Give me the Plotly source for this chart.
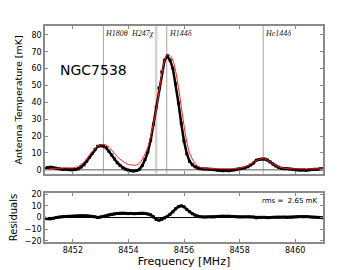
import plotly.graph_objects as go

# frequency grid (MHz), 0.1 MHz sampling
freq = [round(8451.0 + 0.1 * i, 1) for i in range(101)]

# observed antenna temperature (mK)
data_mk = [0.8, 1.3, 1.5, 1.2, 0.8, 0.5, 0.3, 0.3, 0.1, 0.0,
           -0.1, 0.1, 0.5, 1.6, 3.0, 5.0, 7.4, 9.8, 12.0, 13.9,
           14.2, 14.0, 13.0, 11.0, 8.8, 6.4, 4.2, 2.5, 1.2, 0.3,
           -0.3, -0.6, -0.7, -0.5, 0.3, 2.5, 6.0, 10.5, 17.5, 27.0,
           37.0, 48.5, 58.0, 65.0, 67.5, 65.0, 60.0, 51.0, 39.6, 27.5,
           17.0, 9.5, 5.0, 3.0, 1.7, 1.0, 0.6, 0.4, 0.4, 0.3,
           0.2, 0.0, -0.3, -0.5, -0.6, -0.5, -0.6, -0.4, -0.2, 0.2,
           0.5, 0.8, 1.2, 1.8, 2.8, 4.0, 5.6, 6.0, 6.3, 6.3,
           5.7, 4.6, 3.3, 2.2, 1.4, 0.9, 0.6, 0.6, 0.4, 0.2,
           0.0, -0.2, -0.3, -0.2, -0.3, -0.1, 0.1, 0.2, 0.3, 0.5,
           0.6]

# model fit (mK)
model_mk = [0.1, 0.2, 0.4, 0.6, 0.8, 0.9, 0.9, 1.1, 1.1, 1.1,
            1.1, 1.4, 2.0, 3.2, 4.5, 6.5, 8.7, 10.8, 12.6, 13.9,
            14.7, 15.0, 14.6, 13.4, 11.6, 9.6, 7.7, 6.2, 5.0, 3.9,
            3.1, 2.9, 2.6, 2.9, 3.9, 6.2, 9.5, 13.5, 19.8, 27.6,
            35.4, 46.2, 56.4, 64.7, 68.5, 67.8, 65.0, 58.5, 48.9, 37.5,
            26.2, 16.5, 10.0, 6.3, 3.7, 2.1, 1.3, 0.9, 0.9, 0.9,
            0.7, 0.6, 0.6, 0.6, 0.6, 0.6, 0.6, 0.6, 0.7, 0.8,
            1.0, 1.3, 1.8, 2.5, 3.4, 4.4, 5.4, 6.1, 6.5, 6.5,
            5.6, 4.6, 3.5, 2.5, 1.7, 1.2, 0.9, 0.7, 0.6, 0.5,
            0.5, 0.5, 0.5, 0.5, 0.5, 0.5, 0.5, 0.5, 0.5, 0.5,
            0.5]

# residuals (mK)
resid_mk = [-0.7, -1.1, -1.1, -0.6, 0.0, 0.4, 0.6, 0.8, 1.0, 1.1,
            1.2, 1.3, 1.5, 1.6, 1.5, 1.5, 1.3, 1.0, 0.6, 0.0,
            0.5, 1.0, 1.6, 2.4, 2.8, 3.2, 3.5, 3.7, 3.8, 3.6,
            3.4, 3.5, 3.3, 3.4, 3.6, 3.7, 3.5, 3.0, 2.3, 0.6,
            -1.6, -2.3, -1.6, -0.3, 1.0, 2.8, 5.0, 7.5, 9.3, 10.0,
            9.2, 7.0, 5.0, 3.3, 2.0, 1.1, 0.7, 0.5, 0.5, 0.6,
            0.5, 0.6, 0.9, 1.1, 1.2, 1.1, 1.2, 1.0, 0.9, 0.6,
            0.5, 0.5, 0.6, 0.7, 0.6, 0.4, -0.2, 0.1, 0.2, 0.2,
            -0.1, 0.0, 0.2, 0.3, 0.3, 0.3, 0.3, 0.1, 0.2, 0.3,
            0.5, 0.7, 0.8, 0.7, 0.8, 0.6, 0.4, 0.3, 0.2, 0.0,
            -0.1]

line_names = ["H180θ", "H247χ", "H144δ", "He144δ"]
line_freqs = [8453.1, 8455.0, 8455.38, 8458.85]
line_anchor = ["left", "right", "left", "left"]

source_name = "NGC7538"
rms_text = "rms =  2.65 mK"

XR = [8451.0, 8461.0]
YR_TOP = [-2.4, 85.3]
YR_BOT = [-21, 21]

fig = go.Figure()

fig.add_trace(go.Scatter(x=freq, y=data_mk, mode="lines+markers",
                         line=dict(color="black", width=2.5),
                         marker=dict(color="black", size=3, symbol="square"),
                         xaxis="x", yaxis="y", showlegend=False))
fig.add_trace(go.Scatter(x=freq, y=model_mk, mode="lines",
                         line=dict(color="#ff2020", width=1, shape="spline"),
                         xaxis="x", yaxis="y", showlegend=False))
fig.add_trace(go.Scatter(x=freq, y=resid_mk, mode="lines+markers",
                         line=dict(color="black", width=2.5),
                         marker=dict(color="black", size=3, symbol="square"),
                         xaxis="x2", yaxis="y2", showlegend=False))

shapes = []
for nm, f in zip(line_names, line_freqs):
    if nm == "H247χ":
        col, w = "#d8d0d0", 2.5
    else:
        col, w = "#a8a0a0", 1
    shapes.append(dict(type="line", xref="x", yref="y", x0=f, x1=f,
                       y0=YR_TOP[0], y1=YR_TOP[1],
                       line=dict(color=col, width=w), layer="below"))
# zero lines
shapes.append(dict(type="line", xref="x", yref="y", x0=XR[0], x1=XR[1], y0=0, y1=0,
                   line=dict(color="#909090", width=1.5), layer="below"))
shapes.append(dict(type="line", xref="x2", yref="y2", x0=XR[0], x1=XR[1], y0=0, y1=0,
                   line=dict(color="black", width=1), layer="below"))

annotations = []
for nm, f, anc in zip(line_names, line_freqs, line_anchor):
    annotations.append(dict(x=f, y=YR_TOP[1], xref="x", yref="y",
                            text="<i>" + nm + "</i>", showarrow=False,
                            xanchor=anc, yanchor="top", xshift=0,
                            yshift=-1,
                            font=dict(family="Liberation Serif", size=8, color="#222")))
annotations.append(dict(x=8451.45, y=59, xref="x", yref="y", text=source_name,
                        showarrow=False, xanchor="left", yanchor="middle",
                        font=dict(family="DejaVu Sans", size=14, color="black")))
annotations.append(dict(x=0.985, y=0.97, xref="x2 domain", yref="y2 domain", text=rms_text,
                        showarrow=False, xanchor="right", yanchor="top",
                        font=dict(family="DejaVu Sans", size=7, color="black")))

axis_common = dict(showline=True, mirror="ticks", linecolor="#8a8a8a", linewidth=1.5,
                   ticks="inside", ticklen=3, tickcolor="#8a8a8a", tickwidth=1,
                   showgrid=False, zeroline=False, automargin=False,
                   tickfont=dict(family="DejaVu Sans", size=8, color="black"))

# the page body adds an 8px offset, so the figure is drawn 8px smaller
fig.update_layout(
    width=352, height=262,
    margin=dict(l=37, r=37, t=18, b=28),
    paper_bgcolor="white", plot_bgcolor="white",
    shapes=shapes, annotations=annotations,
    xaxis=dict(domain=[0, 1], range=XR, anchor="y", showticklabels=False,
               tickvals=[8452, 8454, 8456, 8458, 8460], **axis_common),
    yaxis=dict(domain=[0.316, 1], range=YR_TOP, anchor="x",
               tickvals=[0, 10, 20, 30, 40, 50, 60, 70, 80],
               title=dict(text="Antenna Temperature [mK]", standoff=7,
                          font=dict(family="DejaVu Sans", size=9.5, color="black")),
               **axis_common),
    xaxis2=dict(domain=[0, 1], range=XR, anchor="y2",
                tickvals=[8452, 8454, 8456, 8458, 8460],
                title=dict(text="Frequency [MHz]", standoff=2,
                           font=dict(family="DejaVu Sans", size=11, color="black")),
                **axis_common),
    yaxis2=dict(domain=[0, 0.2265], range=YR_BOT, anchor="x2",
                tickvals=[-20, -10, 0, 10, 20],
                title=dict(text="Residuals", standoff=6,
                           font=dict(family="DejaVu Sans", size=10, color="black")),
                **axis_common),
)

fig.write_html("out.html")
